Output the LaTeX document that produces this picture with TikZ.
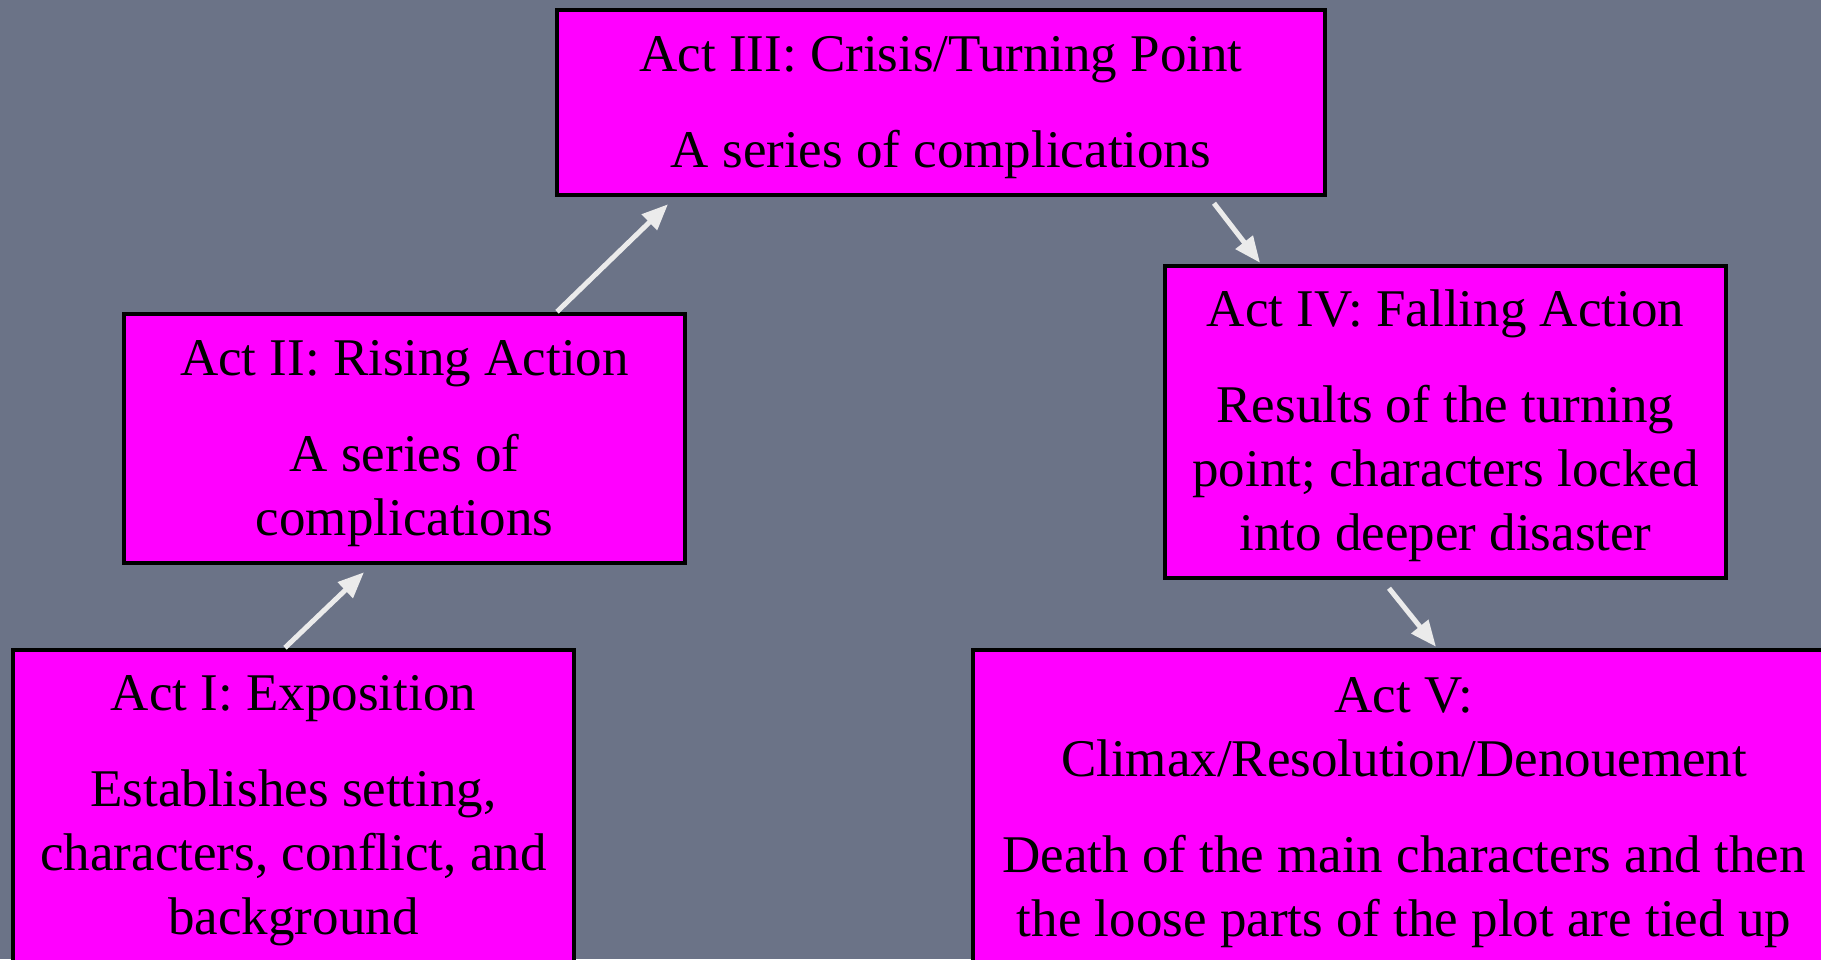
\documentclass[tikz,border=0pt]{standalone}
\usepackage{fontspec}
\setmainfont{Liberation Serif}
\usetikzlibrary{arrows.meta}
\definecolor{bg}{RGB}{107,115,135}
\definecolor{boxfill}{RGB}{255,0,255}
\definecolor{arr}{RGB}{235,235,235}
\newcommand{\tstrut}{\rule[-15pt]{0pt}{63pt}}
\newcommand{\natsp}{\frenchspacing\spaceskip=13.25pt\xspaceskip=13.25pt\relax}
\tikzset{
  actbox/.style={draw=black, line width=4.5pt, fill=boxfill, align=center,
    inner xsep=10pt, inner ysep=0pt, font=\fontsize{53}{64}\selectfont},
  flow/.style={draw=arr, line width=5pt, -{Triangle[length=26pt,width=21pt]}}
}
\begin{document}
\begin{tikzpicture}[x=1pt,y=-1pt]
\useasboundingbox (0,0) rectangle (1821,959);
\fill[bg] (0,0) rectangle (1821,959);

\node[actbox, text width=748pt, minimum height=185pt] (III) at (941,102.5)
  {\natsp\tstrut Act III: Crisis/Turning Point\\[32pt]\tstrut A series of complications};
\node[actbox, text width=541pt, minimum height=249pt] (II) at (404.5,438.5)
  {\natsp\tstrut Act II: Rising Action\\[32pt]A series of\\complications\tstrut};
\node[actbox, text width=541pt, minimum height=312pt] (I) at (293.5,806)
  {\natsp\tstrut Act I: Exposition\\[32pt]Establishes setting,\\characters, conflict, and\\background\tstrut};
\node[actbox, text width=541pt, minimum height=312pt] (IV) at (1445.5,422)
  {\natsp\tstrut Act IV: Falling Action\\[32pt]Results of the turning\\point; characters locked\\into deeper disaster\tstrut};
\node[actbox, text width=842pt, minimum height=316pt] (V) at (1404,808)
  {\natsp\tstrut Act V:\\Climax/Resolution/Denouement\\[32pt]Death of the main characters and then\\the loose parts of the plot are tied up\tstrut};

\draw[flow] ([xshift=-8.5pt]I.north) -- ([xshift=-40.5pt,yshift=-7pt]II.south);
\draw[flow] ([xshift=152.5pt]II.north) -- ([xshift=-273pt,yshift=-7pt]III.south);
\draw[flow] ([xshift=273pt,yshift=-6pt]III.south) -- ([xshift=-185.5pt,yshift=1pt]IV.north);
\draw[flow] ([xshift=-56.5pt,yshift=-8pt]IV.south) -- ([xshift=32pt,yshift=1pt]V.north);
\end{tikzpicture}
\end{document}
